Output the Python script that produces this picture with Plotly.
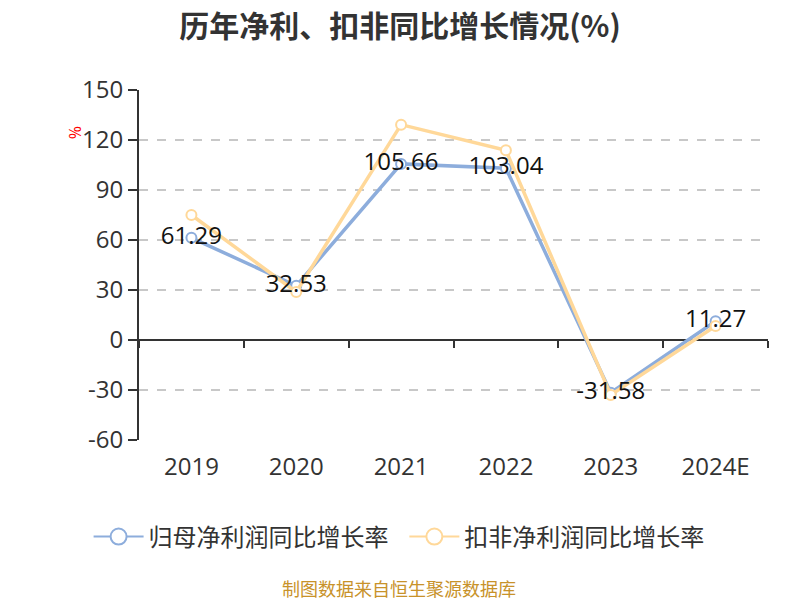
import plotly.graph_objects as go

years = ['2019', '2020', '2021', '2022', '2023', '2024E']
parent_growth = [61.29, 32.53, 105.66, 103.04, -31.58, 11.27]
deducted_growth = [75.0, 28.8, 129.2, 113.8, -33.0, 8.4]
parent_labels = ['61.29', '32.53', '105.66', '103.04', '-31.58', '11.27']
y_ticks = [150, 120, 90, 60, 30, 0, -30, -60]
y_tick_text = ['150', '120', '90', '60', '30', '0', '-30', '-60']
series_names = ['归母净利润同比增长率', '扣非净利润同比增长率']

y_min, y_max = -60, 150
font_num = 'Open Sans, Noto Sans CJK SC'
font_cn = 'Noto Sans CJK SC'
blue = '#8DADDC'
orange = '#FFD899'

fig = go.Figure()

for vals, color in [(parent_growth, blue), (deducted_growth, orange)]:
    fig.add_trace(go.Scatter(
        x=years, y=vals, mode='lines+markers', showlegend=False,
        line=dict(color=color, width=3.5),
        marker=dict(size=10, color='white', line=dict(color=color, width=2)),
        hoverinfo='skip'
    ))

# labels of the blue series drawn on top of both lines
fig.add_trace(go.Scatter(
    x=years, y=parent_growth, mode='text', text=parent_labels,
    textposition='middle center',
    textfont=dict(size=24, color='#111', family=font_num),
    showlegend=False, hoverinfo='skip'
))

# legend entries with the larger hollow circle icon
# (non-breaking spaces widen the gap between the two entries)
legend_pad = ['\u00a0\u00a0', '']
for name, color, pad in zip(series_names, [blue, orange], legend_pad):
    fig.add_trace(go.Scatter(
        x=[None], y=[None], name=name + pad, mode='lines+markers',
        line=dict(color=color, width=2),
        marker=dict(size=20, color='white', line=dict(color=color, width=2))
    ))

# helper trace so the zero-line axis with boundary ticks gets drawn
fig.add_trace(go.Scatter(
    x=years, y=parent_growth, xaxis='x2', mode='markers',
    marker=dict(opacity=0), showlegend=False, hoverinfo='skip'
))

fig.update_layout(
    width=800, height=600,
    paper_bgcolor='white', plot_bgcolor='white',
    margin=dict(l=131, r=40, t=82, b=168),
    font=dict(family=font_num, color='#333'),
    title=dict(text='<b>历年净利、扣非同比增长情况(%)</b>', x=0.49, xanchor='center',
               y=0.97, yanchor='middle',
               font=dict(size=30, color='#333', family=font_cn)),
    xaxis=dict(
        type='category', range=[-0.5, 5.5], showline=False, showgrid=False,
        ticks='', ticklabelstandoff=10, tickfont=dict(size=24, color='#333')
    ),
    xaxis2=dict(
        type='category', range=[-0.5, 5.5], overlaying='x', anchor='free',
        position=(0 - y_min) / (y_max - y_min), side='bottom',
        showline=False, showgrid=False, showticklabels=False,
        ticks='outside', tickson='boundaries', ticklen=7,
        tickcolor='#333', tickwidth=2
    ),
    yaxis=dict(
        range=[y_min, y_max], tickvals=y_ticks, ticktext=y_tick_text,
        showline=True, linecolor='#333',
        linewidth=2, ticks='outside', ticklen=9, tickcolor='#333', tickwidth=2,
        showgrid=True, gridcolor='#c8c8c8', griddash='dash', gridwidth=1.5,
        zeroline=True, zerolinecolor='#333', zerolinewidth=2,
        tickfont=dict(size=24, color='#333')
    ),
    legend=dict(
        orientation='h', x=0.4135, xanchor='center', y=-0.277, yanchor='middle',
        font=dict(size=24, color='#333', family=font_cn), itemwidth=50,
        bgcolor='rgba(0,0,0,0)'
    ),
    annotations=[
        dict(text='%', xref='paper', yref='paper', x=-0.1016, y=0.88,
             xanchor='center', yanchor='middle',
             showarrow=False, textangle=90,
             font=dict(size=16, color='red')),
        dict(text='制图数据来自恒生聚源数据库', xref='paper', yref='paper',
             x=0.4135, y=-0.423, showarrow=False,
             xanchor='center', yanchor='middle',
             font=dict(size=18, color='#C8922A', family=font_cn))
    ]
)

fig.write_html('out.html')
